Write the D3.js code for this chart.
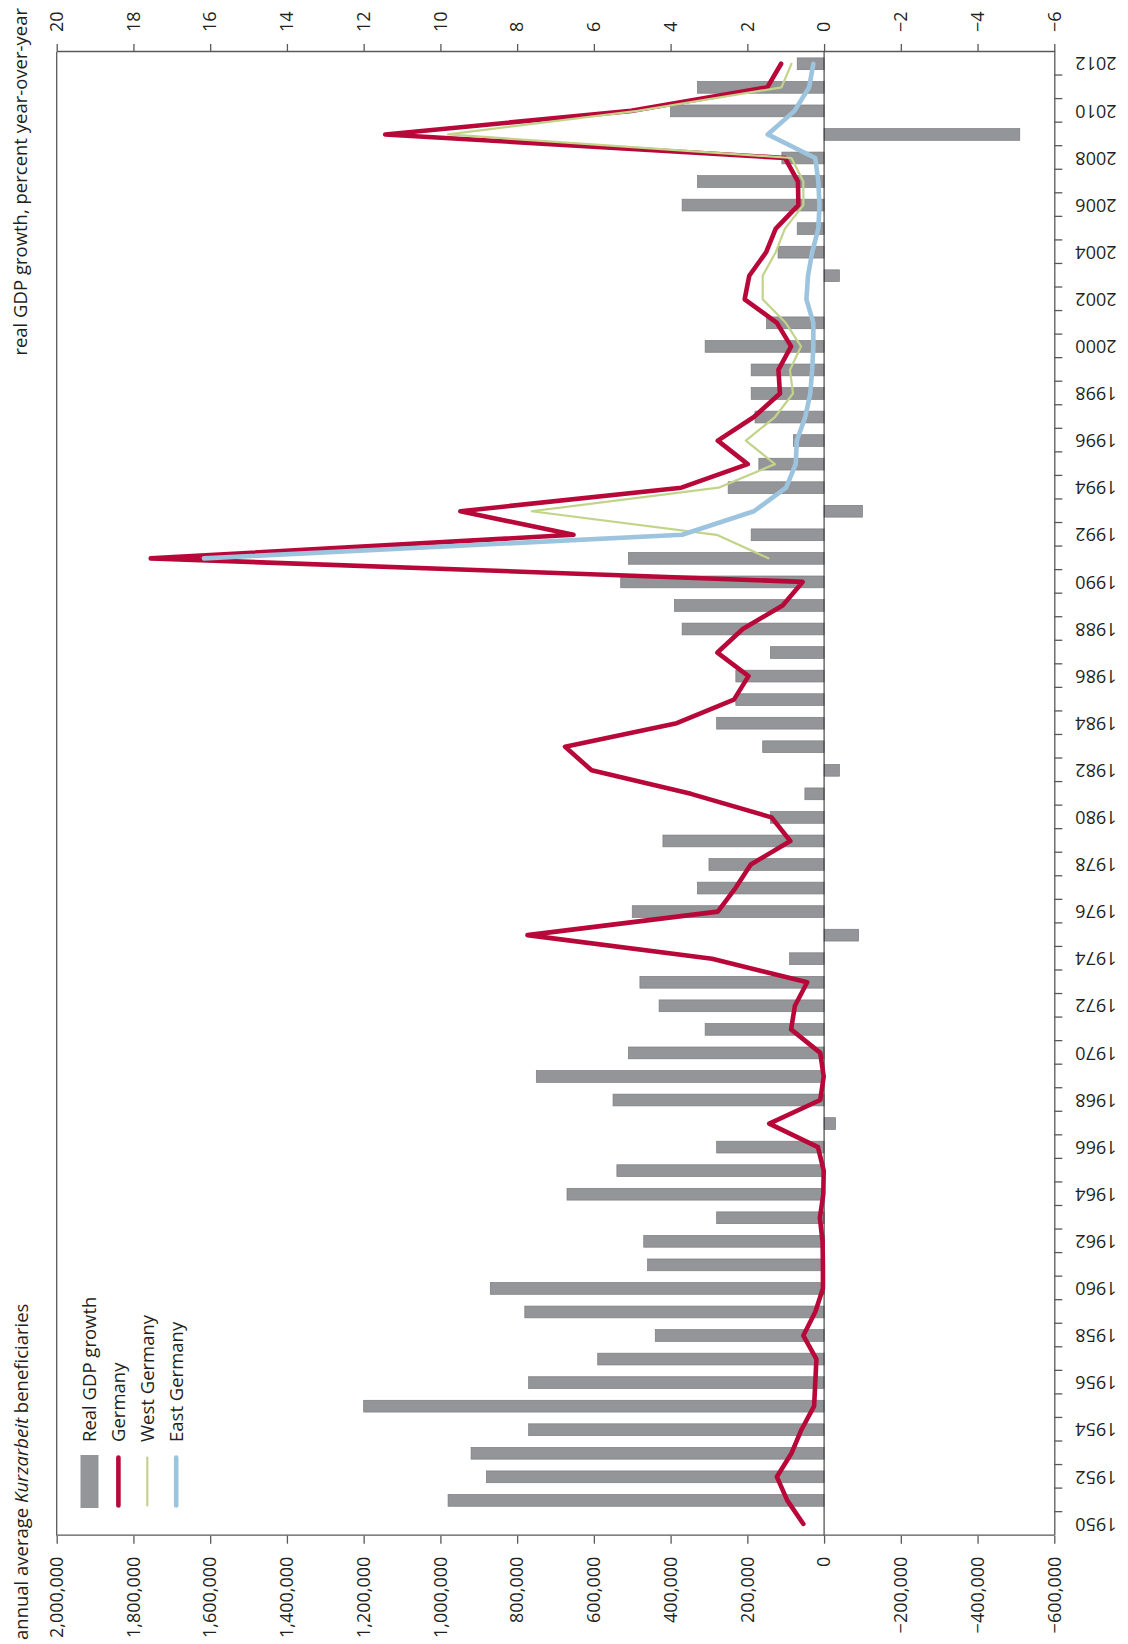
<!DOCTYPE html>
<html>
<head>
<meta charset="utf-8">
<script src="https://cdn.jsdelivr.net/npm/d3@7"></script>
<style>
html, body { margin: 0; padding: 0; background: #fff; }
svg { display: block; }
text { font-family: "Open Sans", "Noto Sans", sans-serif; fill: #231f20; }
</style>
</head>
<body>
<svg id="chart" width="1128" height="1644"></svg>
<script>
// ---------------- DATA ----------------
const years = [1950,1951,1952,1953,1954,1955,1956,1957,1958,1959,
  1960,1961,1962,1963,1964,1965,1966,1967,1968,1969,
  1970,1971,1972,1973,1974,1975,1976,1977,1978,1979,
  1980,1981,1982,1983,1984,1985,1986,1987,1988,1989,
  1990,1991,1992,1993,1994,1995,1996,1997,1998,1999,
  2000,2001,2002,2003,2004,2005,2006,2007,2008,2009,
  2010,2011,2012];

// Real GDP growth, percent year-over-year (bars)
const gdpGrowth = [null,9.8,8.8,9.2,7.7,12.0,7.7,5.9,4.4,7.8,
  8.7,4.6,4.7,2.8,6.7,5.4,2.8,-0.3,5.5,7.5,
  5.1,3.1,4.3,4.8,0.9,-0.9,5.0,3.3,3.0,4.2,
  1.4,0.5,-0.4,1.6,2.8,2.3,2.3,1.4,3.7,3.9,
  5.3,5.1,1.9,-1.0,2.5,1.7,0.8,1.8,1.9,1.9,
  3.1,1.5,0.0,-0.4,1.2,0.7,3.7,3.3,1.1,-5.1,
  4.0,3.3,0.7];

// Annual average Kurzarbeit beneficiaries, Germany
const kurzGermany = [54000,96000,123000,85000,59000,26000,23000,20000,54000,23000,
  3000,3000,4000,11000,2000,1000,16000,143000,10000,1000,
  10000,86000,76000,44000,292000,773000,277000,231000,191000,88000,
  137000,347000,606000,675000,384000,235000,197000,278000,212000,108000,
  56000,1755000,653000,948000,372000,199000,277000,183000,115000,119000,
  86000,123000,207000,195000,151000,126000,67000,68000,102000,1144000,
  503000,148000,112000];

// West and East Germany, from 1991
const unifiedYears = [1991,1992,1993,1994,1995,1996,1997,1998,1999,2000,
  2001,2002,2003,2004,2005,2006,2007,2008,2009,2010,2011,2012];
const kurzWest = [145000,280000,762000,275000,128000,204000,128000,81000,89000,60000,
  100000,160000,160000,126000,102000,54000,54000,85000,980000,486000,111000,85000];
const kurzEast = [1616000,370000,183000,99000,74000,71000,49000,36000,31000,28000,
  28000,46000,42000,31000,15000,12000,15000,23000,147000,77000,39000,28000];

const gdpTicks = [20,18,16,14,12,10,8,6,4,2,0,-2,-4,-6];
const kurzTicks = [2000000,1800000,1600000,1400000,1200000,1000000,800000,600000,400000,200000,0,-200000,-400000,-600000];
const yearLabels = [1950,1952,1954,1956,1958,1960,1962,1964,1966,1968,1970,1972,1974,1976,1978,1980,
  1982,1984,1986,1988,1990,1992,1994,1996,1998,2000,2002,2004,2006,2008,2010,2012];

const titleGdp = "real GDP growth, percent year-over-year";
const legendItems = ["Real GDP growth", "Germany", "West Germany", "East Germany"];

// ---------------- LAYOUT (chart drawn unrotated, then turned -90°) ----------------
const SVG_H = 1644;
const x0 = 108.3, x1 = 1592, yTop = 56.7, yBot = 1054.3;
const C = { bar: "#939598", barStroke: "#7b7c7f", de: "#b8083a", west: "#c2d38a", east: "#9dc4de", axis: "#58595b" };

const svg = d3.select("#chart");
const g = svg.append("g").attr("transform", `translate(0,${SVG_H}) rotate(-90)`);

const x = d3.scaleBand().domain(years).range([x0, x1]).paddingInner(0.5).paddingOuter(0.25);
const xEdge = d3.scaleLinear().domain([years[0] - 0.5, years[years.length - 1] + 0.5]).range([x0, x1]);
const yG = d3.scaleLinear().domain([-6, 20]).range([yBot, yTop]);
const yK = d3.scaleLinear().domain([-600000, 2000000]).range([yBot, yTop]);
const cx = yr => x(yr) + x.bandwidth() / 2;

// frame top line (left edge in the final picture)
g.append("line").attr("x1", x0).attr("x2", x1).attr("y1", yTop).attr("y2", yTop)
  .attr("stroke", C.axis).attr("stroke-width", 1.3);

// bars
g.append("g").selectAll("rect")
  .data(years.map((yr, i) => ({ yr, v: gdpGrowth[i] })).filter(d => d.v !== null))
  .join("rect")
  .attr("x", d => x(d.yr))
  .attr("width", x.bandwidth())
  .attr("y", d => Math.min(yG(d.v), yG(0)))
  .attr("height", d => Math.abs(yG(d.v) - yG(0)))
  .attr("fill", C.bar)
  .attr("stroke", C.barStroke)
  .attr("stroke-width", 0.7);

// zero line
g.append("line").attr("x1", x0).attr("x2", x1).attr("y1", yG(0)).attr("y2", yG(0))
  .attr("stroke", "#231f20").attr("stroke-width", 1);

// lines
const line = d3.line().x(d => cx(d.yr)).y(d => yK(d.v));
const series = [
  { data: years.map((yr, i) => ({ yr, v: kurzGermany[i] })), color: C.de, w: 4.6 },
  { data: unifiedYears.map((yr, i) => ({ yr, v: kurzWest[i] })), color: C.west, w: 2.2 },
  { data: unifiedYears.map((yr, i) => ({ yr, v: kurzEast[i] })), color: C.east, w: 4.6 }
];
g.append("g").selectAll("path").data(series).join("path")
  .attr("d", s => line(s.data))
  .attr("fill", "none")
  .attr("stroke", s => s.color)
  .attr("stroke-width", s => s.w)
  .attr("stroke-linejoin", "round")
  .attr("stroke-linecap", "round");

// axes
const fmtK = d3.format(",");
const fmtG = d3.format("d");
const axL = g.append("g").attr("transform", `translate(${x0},0)`)
  .call(d3.axisLeft(yK).tickValues(kurzTicks).tickFormat(fmtK).tickSize(8).tickSizeOuter(0).tickPadding(13));
const axR = g.append("g").attr("transform", `translate(${x1},0)`)
  .call(d3.axisRight(yG).tickValues(gdpTicks).tickFormat(fmtG).tickSize(8).tickSizeOuter(0).tickPadding(12));
const edgeTicks = years.slice(1).map(yr => yr - 0.5);
const axB = g.append("g").attr("transform", `translate(0,${yBot})`)
  .call(d3.axisBottom(xEdge).tickValues(edgeTicks).tickFormat("").tickSize(8).tickSizeOuter(0));
const axBL = g.append("g").attr("transform", `translate(0,${yBot})`)
  .call(d3.axisBottom(x).tickValues(yearLabels).tickSize(0).tickSizeOuter(0));
axBL.select(".domain").remove();
axBL.selectAll("text")
  .attr("transform", "rotate(-90)")
  .attr("x", -21).attr("y", 0).attr("dy", "0.35em")
  .attr("text-anchor", "end");

[axL, axR, axB].forEach(a => {
  a.select(".domain").attr("stroke", C.axis).attr("stroke-width", 1.3);
  a.selectAll(".tick line").attr("stroke", C.axis).attr("stroke-width", 1.3);
});
[axL, axR, axBL].forEach(a => {
  a.selectAll("text").style("font-size", "18px").style("font-family", '"Open Sans", sans-serif').attr("fill", "#231f20");
});

// titles
g.append("text").attr("x", 1636).attr("y", 27).attr("text-anchor", "end")
  .style("font-size", "18.5px").text(titleGdp);
const tK = g.append("text").attr("x", 4).attr("y", 28).attr("text-anchor", "start").style("font-size", "18.5px");
tK.append("tspan").text("annual average ");
tK.append("tspan").style("font-style", "italic").text("Kurzarbeit");
tK.append("tspan").text(" beneficiaries");

// legend
const legRow = i => 89.5 + i * 28.9;
const lg = g.append("g");
lg.append("rect").attr("x", 136).attr("width", 53).attr("y", legRow(0) - 9).attr("height", 18).attr("fill", C.bar);
[[C.de, 4.6], [C.west, 2.2], [C.east, 4.6]].forEach(([c, w], i) => {
  lg.append("line").attr("x1", 138.5).attr("x2", 186.5).attr("y1", legRow(i + 1)).attr("y2", legRow(i + 1))
    .attr("stroke", c).attr("stroke-width", w).attr("stroke-linecap", "round");
});
lg.selectAll("text.leg").data(legendItems).join("text").attr("class", "leg")
  .attr("x", 202).attr("y", (d, i) => legRow(i)).attr("dy", "0.35em")
  .style("font-size", "18.5px").text(d => d);
</script>
</body>
</html>
